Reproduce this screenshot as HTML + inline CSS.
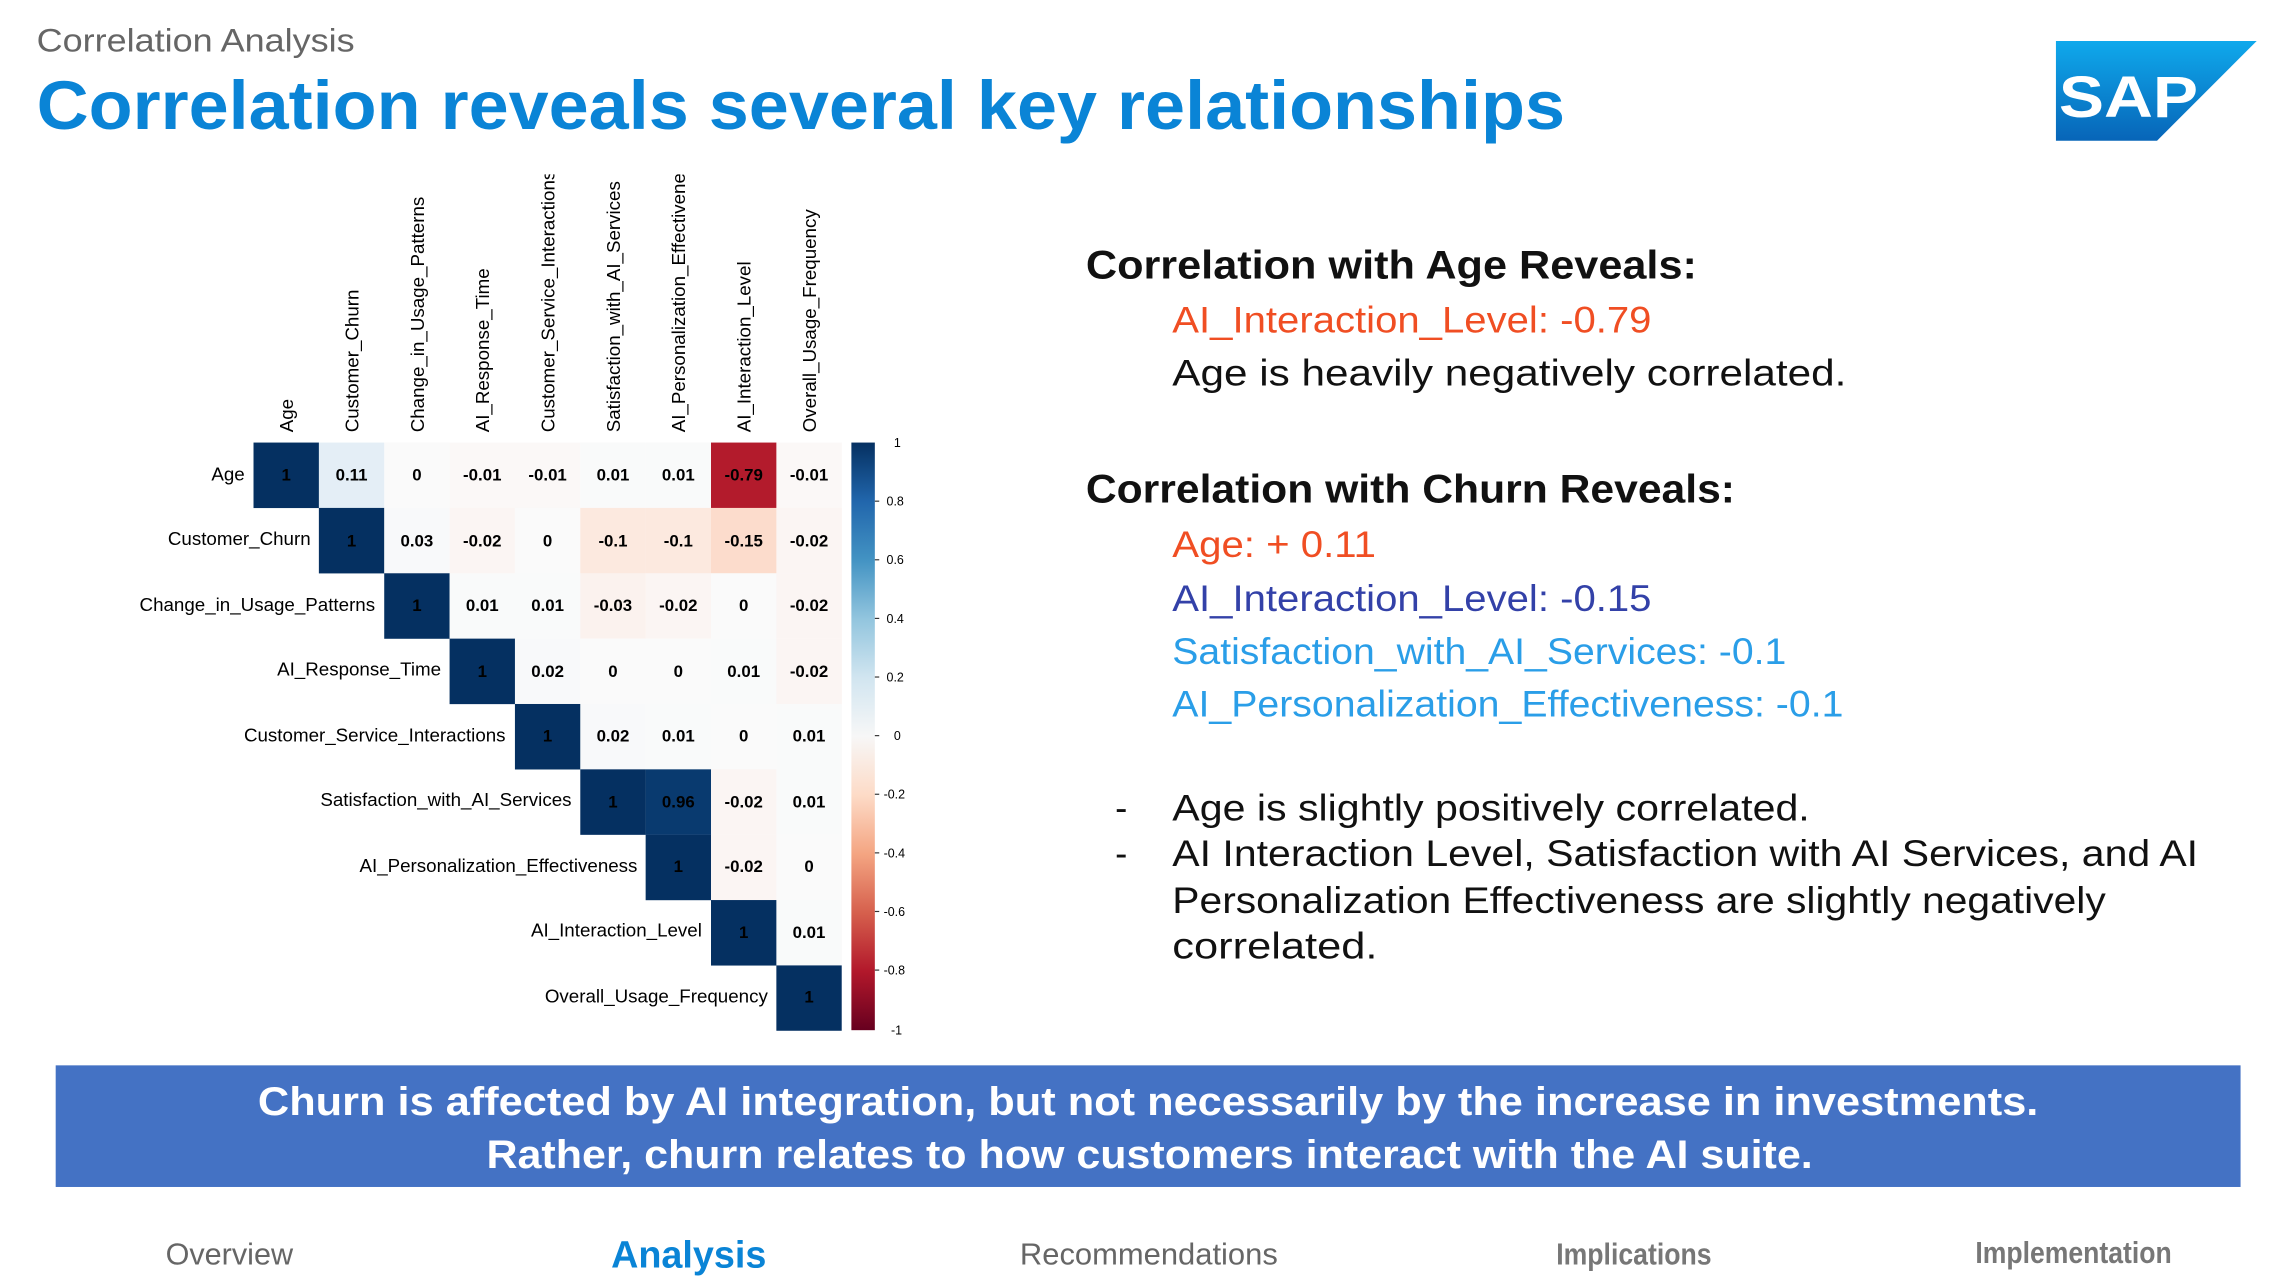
<!DOCTYPE html>
<html><head><meta charset="utf-8"><style>html,body{margin:0;padding:0;background:#fff}svg{display:block}</style></head>
<body>
<svg width="2286" height="1284" viewBox="0 0 1560 876.2" xmlns="http://www.w3.org/2000/svg" font-family="Liberation Sans, sans-serif">
<defs>
<linearGradient id="cb" x1="0" y1="0" x2="0" y2="1">
<stop offset="0" stop-color="#053061"/><stop offset="0.1" stop-color="#2166ac"/><stop offset="0.2" stop-color="#4393c3"/><stop offset="0.3" stop-color="#92c5de"/><stop offset="0.4" stop-color="#d1e5f0"/><stop offset="0.5" stop-color="#f7f7f7"/><stop offset="0.6" stop-color="#fddbc7"/><stop offset="0.7" stop-color="#f4a582"/><stop offset="0.8" stop-color="#d6604d"/><stop offset="0.9" stop-color="#b2182b"/><stop offset="1" stop-color="#67001f"/>
</linearGradient>
<linearGradient id="sap" x1="0" y1="0" x2="0" y2="1"><stop offset="0" stop-color="#0fa9ec"/><stop offset="1" stop-color="#0765b8"/></linearGradient>
<clipPath id="clip"><rect x="0" y="119" width="700" height="600"/></clipPath>
</defs>

<text x="25" y="35" font-size="22" fill="#666" textLength="217" lengthAdjust="spacingAndGlyphs">Correlation Analysis</text>
<text x="25" y="88" font-size="47" font-weight="bold" fill="#0a84d6" textLength="1043" lengthAdjust="spacingAndGlyphs">Correlation reveals several key relationships</text>

<polygon points="1403,28 1540,28 1472,96 1403,96" fill="url(#sap)"/>
<text x="1405" y="80" font-size="40" font-weight="bold" fill="#fff" textLength="95" lengthAdjust="spacingAndGlyphs">SAP</text>

<g clip-path="url(#clip)" font-size="12.8" fill="#000">
<text transform="translate(200,295) rotate(-90)">Age</text>
<text transform="translate(244.6,295) rotate(-90)">Customer_Churn</text>
<text transform="translate(289.2,295) rotate(-90)">Change_in_Usage_Patterns</text>
<text transform="translate(333.8,295) rotate(-90)">AI_Response_Time</text>
<text transform="translate(378.4,295) rotate(-90)">Customer_Service_Interactions</text>
<text transform="translate(423,295) rotate(-90)">Satisfaction_with_AI_Services</text>
<text transform="translate(467.6,295) rotate(-90)">AI_Personalization_Effectiveness</text>
<text transform="translate(512.2,295) rotate(-90)">AI_Interaction_Level</text>
<text transform="translate(556.8,295) rotate(-90)">Overall_Usage_Frequency</text>
</g>

<g font-size="12.8" text-anchor="end" fill="#000">
<text x="167" y="328">Age</text>
<text x="212" y="372">Customer_Churn</text>
<text x="256" y="417">Change_in_Usage_Patterns</text>
<text x="301" y="461">AI_Response_Time</text>
<text x="345" y="506">Customer_Service_Interactions</text>
<text x="390" y="550">Satisfaction_with_AI_Services</text>
<text x="435" y="595">AI_Personalization_Effectiveness</text>
<text x="479" y="639">AI_Interaction_Level</text>
<text x="524" y="684">Overall_Usage_Frequency</text>
</g>

<g>
<rect x="173" y="302" width="44.7" height="44.7" fill="#053061"/>
<rect x="217.6" y="302" width="44.7" height="44.7" fill="#e4eef6"/>
<rect x="262.2" y="302" width="44.7" height="44.7" fill="#fafafa"/>
<rect x="306.8" y="302" width="44.7" height="44.7" fill="#fbf8f7"/>
<rect x="351.4" y="302" width="44.7" height="44.7" fill="#fbf8f7"/>
<rect x="396" y="302" width="44.7" height="44.7" fill="#f9fafa"/>
<rect x="440.6" y="302" width="44.7" height="44.7" fill="#f9fafa"/>
<rect x="485.2" y="302" width="44.7" height="44.7" fill="#b31b2c"/>
<rect x="529.8" y="302" width="44.7" height="44.7" fill="#fbf8f7"/>
<rect x="217.6" y="346.6" width="44.7" height="44.7" fill="#053061"/>
<rect x="262.2" y="346.6" width="44.7" height="44.7" fill="#f8f9fa"/>
<rect x="306.8" y="346.6" width="44.7" height="44.7" fill="#fbf5f3"/>
<rect x="351.4" y="346.6" width="44.7" height="44.7" fill="#fafafa"/>
<rect x="396" y="346.6" width="44.7" height="44.7" fill="#fce9df"/>
<rect x="440.6" y="346.6" width="44.7" height="44.7" fill="#fce9df"/>
<rect x="485.2" y="346.6" width="44.7" height="44.7" fill="#fcdccc"/>
<rect x="529.8" y="346.6" width="44.7" height="44.7" fill="#fbf5f3"/>
<rect x="262.2" y="391.2" width="44.7" height="44.7" fill="#053061"/>
<rect x="306.8" y="391.2" width="44.7" height="44.7" fill="#f9fafa"/>
<rect x="351.4" y="391.2" width="44.7" height="44.7" fill="#f9fafa"/>
<rect x="396" y="391.2" width="44.7" height="44.7" fill="#fbf2ee"/>
<rect x="440.6" y="391.2" width="44.7" height="44.7" fill="#fbf5f3"/>
<rect x="485.2" y="391.2" width="44.7" height="44.7" fill="#fafafa"/>
<rect x="529.8" y="391.2" width="44.7" height="44.7" fill="#fbf5f3"/>
<rect x="306.8" y="435.8" width="44.7" height="44.7" fill="#053061"/>
<rect x="351.4" y="435.8" width="44.7" height="44.7" fill="#f8f9fa"/>
<rect x="396" y="435.8" width="44.7" height="44.7" fill="#fafafa"/>
<rect x="440.6" y="435.8" width="44.7" height="44.7" fill="#fafafa"/>
<rect x="485.2" y="435.8" width="44.7" height="44.7" fill="#f9fafa"/>
<rect x="529.8" y="435.8" width="44.7" height="44.7" fill="#fbf5f3"/>
<rect x="351.4" y="480.4" width="44.7" height="44.7" fill="#053061"/>
<rect x="396" y="480.4" width="44.7" height="44.7" fill="#f8f9fa"/>
<rect x="440.6" y="480.4" width="44.7" height="44.7" fill="#f9fafa"/>
<rect x="485.2" y="480.4" width="44.7" height="44.7" fill="#fafafa"/>
<rect x="529.8" y="480.4" width="44.7" height="44.7" fill="#f9fafa"/>
<rect x="396" y="525" width="44.7" height="44.7" fill="#053061"/>
<rect x="440.6" y="525" width="44.7" height="44.7" fill="#093a6f"/>
<rect x="485.2" y="525" width="44.7" height="44.7" fill="#fbf5f3"/>
<rect x="529.8" y="525" width="44.7" height="44.7" fill="#f9fafa"/>
<rect x="440.6" y="569.6" width="44.7" height="44.7" fill="#053061"/>
<rect x="485.2" y="569.6" width="44.7" height="44.7" fill="#fbf5f3"/>
<rect x="529.8" y="569.6" width="44.7" height="44.7" fill="#fafafa"/>
<rect x="485.2" y="614.2" width="44.7" height="44.7" fill="#053061"/>
<rect x="529.8" y="614.2" width="44.7" height="44.7" fill="#f9fafa"/>
<rect x="529.8" y="658.8" width="44.6" height="44.6" fill="#053061"/>
</g>

<g font-size="11.5" font-weight="bold" text-anchor="middle" fill="#000">
<text x="195.3" y="328">1</text><text x="239.9" y="328">0.11</text><text x="284.5" y="328">0</text><text x="329.1" y="328">-0.01</text><text x="373.7" y="328">-0.01</text><text x="418.3" y="328">0.01</text><text x="462.9" y="328">0.01</text><text x="507.5" y="328">-0.79</text><text x="552.1" y="328">-0.01</text>
<text x="239.9" y="373">1</text><text x="284.5" y="373">0.03</text><text x="329.1" y="373">-0.02</text><text x="373.7" y="373">0</text><text x="418.3" y="373">-0.1</text><text x="462.9" y="373">-0.1</text><text x="507.5" y="373">-0.15</text><text x="552.1" y="373">-0.02</text>
<text x="284.5" y="417">1</text><text x="329.1" y="417">0.01</text><text x="373.7" y="417">0.01</text><text x="418.3" y="417">-0.03</text><text x="462.9" y="417">-0.02</text><text x="507.5" y="417">0</text><text x="552.1" y="417">-0.02</text>
<text x="329.1" y="462">1</text><text x="373.7" y="462">0.02</text><text x="418.3" y="462">0</text><text x="462.9" y="462">0</text><text x="507.5" y="462">0.01</text><text x="552.1" y="462">-0.02</text>
<text x="373.7" y="506">1</text><text x="418.3" y="506">0.02</text><text x="462.9" y="506">0.01</text><text x="507.5" y="506">0</text><text x="552.1" y="506">0.01</text>
<text x="418.3" y="551">1</text><text x="462.9" y="551">0.96</text><text x="507.5" y="551">-0.02</text><text x="552.1" y="551">0.01</text>
<text x="462.9" y="595">1</text><text x="507.5" y="595">-0.02</text><text x="552.1" y="595">0</text>
<text x="507.5" y="640">1</text><text x="552.1" y="640">0.01</text>
<text x="552.1" y="684">1</text>
</g>

<rect x="581" y="302" width="16" height="401" fill="url(#cb)"/>
<g stroke="#333" stroke-width="0.8">
<line x1="597" y1="342" x2="600" y2="342"/><line x1="597" y1="382" x2="600" y2="382"/><line x1="597" y1="422" x2="600" y2="422"/><line x1="597" y1="462" x2="600" y2="462"/><line x1="597" y1="502" x2="600" y2="502"/><line x1="597" y1="542" x2="600" y2="542"/><line x1="597" y1="582" x2="600" y2="582"/><line x1="597" y1="622" x2="600" y2="622"/><line x1="597" y1="662" x2="600" y2="662"/>
</g>
<g font-size="8.5" fill="#000">
<text x="610" y="305">1</text><text x="605" y="345">0.8</text><text x="605" y="385">0.6</text><text x="605" y="425">0.4</text><text x="605" y="465">0.2</text><text x="610" y="505">0</text><text x="603" y="545">-0.2</text><text x="603" y="585">-0.4</text><text x="603" y="625">-0.6</text><text x="603" y="665">-0.8</text><text x="608" y="706">-1</text>
</g>

<g font-size="25">
<text x="741" y="190" font-size="27" font-weight="bold" fill="#111" textLength="417" lengthAdjust="spacingAndGlyphs">Correlation with Age Reveals:</text>
<text x="800" y="227" fill="#f04e23" textLength="327" lengthAdjust="spacingAndGlyphs">AI_Interaction_Level: -0.79</text>
<text x="800" y="263" fill="#111" textLength="460" lengthAdjust="spacingAndGlyphs">Age is heavily negatively correlated.</text>
<text x="741" y="343" font-size="27" font-weight="bold" fill="#111" textLength="443" lengthAdjust="spacingAndGlyphs">Correlation with Churn Reveals:</text>
<text x="800" y="380" fill="#f04e23" textLength="139" lengthAdjust="spacingAndGlyphs">Age: + 0.11</text>
<text x="800" y="417" fill="#3341a8" textLength="327" lengthAdjust="spacingAndGlyphs">AI_Interaction_Level: -0.15</text>
<text x="800" y="453" fill="#2a9ee8" textLength="419" lengthAdjust="spacingAndGlyphs">Satisfaction_with_AI_Services: -0.1</text>
<text x="800" y="489" fill="#2a9ee8" textLength="458" lengthAdjust="spacingAndGlyphs">AI_Personalization_Effectiveness: -0.1</text>
<text x="761" y="560" fill="#111">-</text>
<text x="800" y="560" fill="#111" textLength="435" lengthAdjust="spacingAndGlyphs">Age is slightly positively correlated.</text>
<text x="761" y="591" fill="#111">-</text>
<text x="800" y="591" fill="#111" textLength="700" lengthAdjust="spacingAndGlyphs">AI Interaction Level, Satisfaction with AI Services, and AI</text>
<text x="800" y="623" fill="#111" textLength="637" lengthAdjust="spacingAndGlyphs">Personalization Effectiveness are slightly negatively</text>
<text x="800" y="654" fill="#111" textLength="140" lengthAdjust="spacingAndGlyphs">correlated.</text>
</g>

<rect x="38" y="727" width="1491" height="83" fill="#4472c4"/>
<text x="176" y="761" font-size="27" font-weight="bold" fill="#fff" textLength="1215" lengthAdjust="spacingAndGlyphs">Churn is affected by AI integration, but not necessarily by the increase in investments.</text>
<text x="332" y="797" font-size="27" font-weight="bold" fill="#fff" textLength="905" lengthAdjust="spacingAndGlyphs">Rather, churn relates to how customers interact with the AI suite.</text>

<text x="113" y="863" font-size="21" fill="#666" textLength="87" lengthAdjust="spacingAndGlyphs">Overview</text>
<text x="417" y="865" font-size="26" font-weight="bold" fill="#0a84d6" textLength="106" lengthAdjust="spacingAndGlyphs">Analysis</text>
<text x="696" y="863" font-size="21" fill="#666" textLength="176" lengthAdjust="spacingAndGlyphs">Recommendations</text>
<text x="1062" y="863" font-size="21" font-weight="bold" fill="#777" textLength="106" lengthAdjust="spacingAndGlyphs">Implications</text>
<text x="1348" y="862" font-size="21" font-weight="bold" fill="#777" textLength="134" lengthAdjust="spacingAndGlyphs">Implementation</text>
</svg>
</body></html>
